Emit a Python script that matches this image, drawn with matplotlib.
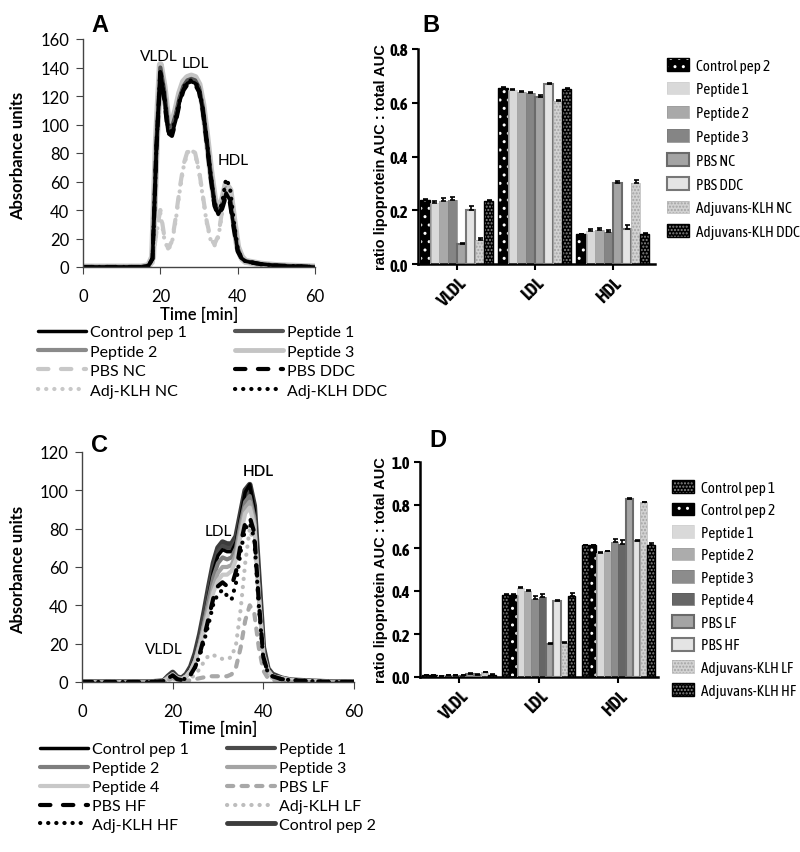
import matplotlib.pyplot as plt
from matplotlib.patches import Patch
from matplotlib.lines import Line2D

# ---------------- data ----------------
# Panel A: FPLC chromatograms (time in min, absorbance units)
timeA = [0, 5, 10, 15, 17, 18, 19, 20, 21, 22, 23, 24, 25, 26, 27, 28, 29, 30,
         31, 32, 33, 34, 35, 36, 37, 38, 39, 40, 41, 42, 44, 46, 48, 50, 55, 60]
ctrl1A = [0, 0, 0, 0, 1, 6, 85, 137, 120, 95, 93, 103, 116, 125, 129, 130, 129, 124,
          110, 88, 64, 44, 37, 42, 52, 47, 28, 12, 6, 4, 3, 2, 1.5, 1, 0.5, 0]
pep1A = [0, 0, 0, 0, 1, 6, 88, 140, 124, 100, 98, 107, 119, 127, 131, 132, 131, 126,
         112, 90, 66, 46, 38, 44, 55, 50, 30, 13, 6, 4, 3, 2, 1.5, 1, 0.5, 0]
pep2A = [0, 0, 0, 0, 1, 5, 82, 135, 118, 96, 96, 106, 118, 126, 130, 131, 130, 125,
         111, 89, 65, 45, 37, 43, 53, 48, 29, 12, 6, 4, 3, 2, 1.5, 1, 0.5, 0]
pep3A = [0, 0, 0, 0, 1, 7, 90, 142, 126, 102, 100, 110, 122, 130, 133, 134, 133, 128,
         114, 92, 68, 48, 40, 46, 58, 54, 33, 14, 7, 4, 3, 2, 1.5, 1, 0.5, 0]
pbsNcA = [0, 0, 0, 0, 0.5, 3, 25, 40, 22, 13, 18, 35, 55, 72, 81, 84, 80, 68,
          50, 32, 20, 16, 22, 40, 58, 52, 30, 12, 5, 3, 2, 1.5, 1, 0.5, 0, 0]
pbsDdcA = [0, 0, 0, 0, 1, 6, 84, 136, 118, 94, 92, 102, 115, 124, 128, 129, 128, 123,
           109, 87, 63, 43, 36, 41, 50, 45, 27, 11, 6, 4, 3, 2, 1.5, 1, 0.5, 0]
adjNcA = [0, 0, 0, 0, 0.5, 3, 24, 38, 20, 12, 17, 33, 53, 70, 80, 83, 79, 67,
          49, 31, 19, 15, 21, 38, 56, 50, 28, 11, 5, 3, 2, 1.5, 1, 0.5, 0, 0]
adjDdcA = [0, 0, 0, 0, 1, 6, 86, 138, 121, 97, 95, 105, 117, 126, 130, 131, 130, 125,
           111, 89, 65, 45, 38, 45, 62, 56, 32, 13, 6, 4, 3, 2, 1.5, 1, 0.5, 0]

# Panel C: chromatograms
timeC = [0, 5, 10, 15, 18, 19, 20, 21, 22, 23, 24, 25, 26, 27, 28, 29, 30, 31,
         32, 33, 34, 35, 36, 37, 38, 39, 40, 41, 42, 44, 46, 50, 55, 60]
ctrl2C = [0, 0, 0, 0, 0.5, 3, 5, 2.5, 2, 4, 8, 15, 25, 37, 50, 62, 70, 73,
          72, 72, 76, 88, 100, 103, 92, 55, 18, 7, 4, 2, 1, 0.5, 0, 0]
ctrl1C = [0, 0, 0, 0, 0.5, 2.5, 4.5, 2, 1.5, 3, 7, 13, 22, 33, 46, 58, 66, 69,
          68, 68, 73, 86, 99, 103, 90, 52, 16, 6, 3, 2, 1, 0.5, 0, 0]
pep1C = [0, 0, 0, 0, 0.5, 2.5, 4.5, 2, 1.5, 3, 7, 13, 23, 35, 48, 60, 68, 71,
         70, 70, 74, 86, 97, 100, 88, 50, 16, 6, 3, 2, 1, 0.5, 0, 0]
pep2C = [0, 0, 0, 0, 0.5, 2.5, 4, 2, 1.5, 3, 6, 12, 21, 32, 44, 55, 62, 65,
         64, 65, 70, 83, 94, 97, 86, 48, 15, 6, 3, 2, 1, 0.5, 0, 0]
pep3C = [0, 0, 0, 0, 0.5, 2.5, 4, 2, 1.5, 3, 6, 11, 20, 30, 40, 50, 57, 60,
         60, 61, 67, 80, 91, 94, 84, 46, 15, 6, 3, 2, 1, 0.5, 0, 0]
pep4C = [0, 0, 0, 0, 0.5, 2, 4, 2, 1.5, 3, 6, 11, 19, 28, 37, 47, 53, 56,
         56, 58, 64, 77, 88, 91, 82, 45, 14, 6, 3, 2, 1, 0.5, 0, 0]
pbsLfC = [0, 0, 0, 0, 0.3, 1, 2, 1, 0.5, 0.5, 1, 1.5, 2, 2.5, 3, 3, 3, 3,
          3, 4, 8, 18, 32, 40, 36, 18, 6, 2, 1, 0.5, 0, 0, 0, 0]
pbsHfC = [0, 0, 0, 0, 0.5, 2, 3.5, 1.5, 1, 2, 4, 8, 15, 24, 34, 44, 50, 52,
          50, 50, 58, 72, 83, 86, 78, 42, 13, 5, 3, 1.5, 1, 0.5, 0, 0]
adjLfC = [0, 0, 0, 0, 0.3, 1.5, 2.5, 1, 0.5, 1, 2, 4, 7, 11, 14, 14, 13, 12,
          12, 13, 20, 38, 62, 80, 72, 38, 12, 4, 2, 1, 0.5, 0, 0, 0]
adjHfC = [0, 0, 0, 0, 0.5, 2, 3.5, 1.5, 1, 2, 4, 8, 14, 22, 31, 41, 46, 48,
          45, 43, 52, 68, 80, 83, 75, 40, 12, 5, 3, 1.5, 1, 0.5, 0, 0]

# Panel B: ratio lipoprotein AUC : total AUC
classes = ['VLDL', 'LDL', 'HDL']
groupsB = ['Control pep 2', 'Peptide 1', 'Peptide 2', 'Peptide 3',
           'PBS NC', 'PBS DDC', 'Adjuvans-KLH NC', 'Adjuvans-KLH DDC']
vldlB = [0.237, 0.228, 0.235, 0.240, 0.075, 0.200, 0.090, 0.235]
ldlB = [0.655, 0.648, 0.640, 0.638, 0.622, 0.668, 0.607, 0.653]
hdlB = [0.110, 0.124, 0.127, 0.120, 0.300, 0.130, 0.300, 0.113]
vldlErrB = [0.004, 0.008, 0.010, 0.010, 0.004, 0.014, 0.005, 0.004]
ldlErrB = [0.004, 0.003, 0.003, 0.003, 0.005, 0.004, 0.004, 0.003]
hdlErrB = [0.002, 0.006, 0.007, 0.007, 0.008, 0.015, 0.012, 0.004]

# Panel D
groupsD = ['Control pep 1', 'Control pep 2', 'Peptide 1', 'Peptide 2', 'Peptide 3',
           'Peptide 4', 'PBS LF', 'PBS HF', 'Adjuvans-KLH LF', 'Adjuvans-KLH HF']
vldlD = [0.008, 0.008, 0.005, 0.007, 0.008, 0.008, 0.015, 0.010, 0.022, 0.010]
ldlD = [0.382, 0.382, 0.415, 0.400, 0.365, 0.373, 0.155, 0.352, 0.160, 0.378]
hdlD = [0.612, 0.612, 0.578, 0.585, 0.628, 0.620, 0.828, 0.632, 0.812, 0.614]
vldlErrD = [0.001, 0.001, 0.001, 0.001, 0.002, 0.001, 0.002, 0.002, 0.003, 0.002]
ldlErrD = [0.003, 0.003, 0.003, 0.004, 0.012, 0.012, 0.004, 0.004, 0.003, 0.012]
hdlErrD = [0.003, 0.003, 0.003, 0.003, 0.012, 0.015, 0.003, 0.004, 0.003, 0.010]

# ---------------- styles ----------------
curveFont = ['Lato', 'DejaVu Sans']
barFont = ['Asap Condensed', 'DejaVu Sans']
plt.rcParams['font.family'] = curveFont
plt.rcParams['hatch.linewidth'] = 1.0

dotted = (0, (0.05, 1.9))
longDash = (0, (2.5, 3.0))
shortDash = (0, (1.5, 2.0))
styleA = {
    'Control pep 1': dict(color='black', ls='-', lw=2.5),
    'Peptide 1': dict(color='#555555', ls='-', lw=3),
    'Peptide 2': dict(color='#8a8a8a', ls='-', lw=3),
    'Peptide 3': dict(color='#c4c4c4', ls='-', lw=5),
    'PBS NC': dict(color='#c8c8c8', ls=longDash, lw=3),
    'PBS DDC': dict(color='black', ls=longDash, lw=3),
    'Adj-KLH NC': dict(color='#c8c8c8', ls=dotted, lw=3),
    'Adj-KLH DDC': dict(color='black', ls=dotted, lw=3),
}
styleC = {
    'Control pep 1': dict(color='black', ls='-', lw=2.5),
    'Peptide 1': dict(color='#4a4a4a', ls='-', lw=3),
    'Peptide 2': dict(color='#7e7e7e', ls='-', lw=3),
    'Peptide 3': dict(color='#a4a4a4', ls='-', lw=3),
    'Peptide 4': dict(color='#c8c8c8', ls='-', lw=3),
    'PBS LF': dict(color='#a8a8a8', ls=shortDash, lw=3),
    'PBS HF': dict(color='black', ls=longDash, lw=3),
    'Adj-KLH LF': dict(color='#bdbdbd', ls=dotted, lw=3),
    'Adj-KLH HF': dict(color='black', ls=dotted, lw=3),
    'Control pep 2': dict(color='#3c3c3c', ls='-', lw=4),
}

black_white = dict(face='black', hatch='..', hcol='white', edge='black', lw=1)
black_grey = dict(face='black', hatch='.....', hcol='#8a8a8a', edge='black', lw=1)
speckle = dict(face='#d2d2d2', hatch='.....', hcol='#a4a4a4', edge='#b4b4b4', lw=0.5)
barStyleB = [
    black_white,
    dict(face='#d9d9d9', hatch=None, hcol='none', edge='#cfcfcf', lw=0.5),
    dict(face='#a9a9a9', hatch=None, hcol='none', edge='#9c9c9c', lw=0.5),
    dict(face='#858585', hatch=None, hcol='none', edge='#7a7a7a', lw=0.5),
    dict(face='#a4a4a4', hatch=None, hcol='none', edge='#6a6a6a', lw=1.5),
    dict(face='#e4e4e4', hatch=None, hcol='none', edge='#777777', lw=1.5),
    speckle,
    black_grey,
]
barStyleD = [
    black_grey,
    black_white,
    dict(face='#d9d9d9', hatch=None, hcol='none', edge='#cfcfcf', lw=0.5),
    dict(face='#acacac', hatch=None, hcol='none', edge='#a0a0a0', lw=0.5),
    dict(face='#8c8c8c', hatch=None, hcol='none', edge='#808080', lw=0.5),
    dict(face='#666666', hatch=None, hcol='none', edge='#5c5c5c', lw=0.5),
    dict(face='#a4a4a4', hatch=None, hcol='none', edge='#6a6a6a', lw=1.5),
    dict(face='#e4e4e4', hatch=None, hcol='none', edge='#777777', lw=1.5),
    speckle,
    black_grey,
]

W, H = 800, 853
fig = plt.figure(figsize=(W / 100, H / 100), dpi=100)


def box(x0, y0, x1, y1):
    # pixel box (top-left origin) -> figure fraction rect
    return [x0 / W, 1 - y1 / H, (x1 - x0) / W, (y1 - y0) / H]


def chromAxes(ax, ymax, ystep):
    ax.set_xlim(0, 60)
    ax.set_ylim(0, ymax)
    ax.set_xticks([0, 20, 40, 60])
    ax.set_yticks(range(0, ymax + 1, ystep))
    for s in ['top', 'right']:
        ax.spines[s].set_visible(False)
    for s in ['left', 'bottom']:
        ax.spines[s].set_color('#444444')
        ax.spines[s].set_linewidth(1)
    ax.tick_params(axis='x', length=5, pad=10, labelsize=12, color='#444444')
    ax.tick_params(axis='y', length=5, pad=5, labelsize=12, color='#444444')
    ax.set_xlabel('Time [min]', fontsize=12, fontweight='semibold')
    ax.set_ylabel('Absorbance units', fontsize=12, fontweight='bold')


def chromLegend(names, styles, x0, x1, ytop, spacing):
    half = (len(names) + 1) // 2
    for col, xs in zip([names[:half], names[half:]], [x0, x1]):
        hs = [Line2D([], [], color=styles[n]['color'], ls=styles[n]['ls'],
                     lw=min(styles[n]['lw'], 3.5), solid_capstyle='round',
                     dash_capstyle='round') for n in col]
        fig.legend(hs, col, loc='upper left', bbox_to_anchor=(xs / W, 1 - ytop / H),
                   frameon=False, fontsize=11.5, handlelength=3.0, handletextpad=0.25,
                   labelspacing=spacing, borderpad=0, borderaxespad=0)


def drawBars(ax, groups, vals, errs, styles, width):
    n = len(groups)
    hs = []
    for i, g in enumerate(groups):
        st = styles[i]
        xs = [k + (i - (n - 1) / 2) * width for k in range(len(classes))]
        hv = [v[i] for v in vals]
        ev = [e[i] for e in errs]
        ax.bar(xs, hv, width, color=st['face'], edgecolor=st['hcol'],
               hatch=st['hatch'], linewidth=0, zorder=2)
        ax.bar(xs, hv, width, color='none', edgecolor=st['edge'],
               linewidth=st['lw'], zorder=3)
        ax.errorbar(xs, hv, yerr=[[0] * len(ev), ev], fmt='none', ecolor='black',
                    elinewidth=1.2, capsize=1.8, capthick=1.2, zorder=4)
        hs.append((Patch(facecolor=st['face'], edgecolor=st['hcol'], hatch=st['hatch'], lw=0),
                   Patch(facecolor='none', edgecolor=st['edge'], lw=st['lw'])))
    return hs


def barAxes(ax, ymax, xmin, xmax):
    nt = int(round(ymax / 0.2)) + 1
    ax.set_xlim(xmin, xmax)
    ax.set_ylim(0, ymax)
    ax.set_yticks([round(0.2 * k, 1) for k in range(nt)])
    ax.set_yticklabels(['%.1f' % (0.2 * k) for k in range(nt)],
                       fontweight='bold', fontsize=12, family=barFont)
    ax.set_xticks(range(len(classes)))
    ax.set_xticklabels(classes, rotation=45, ha='right', va='top', rotation_mode='anchor',
                       fontweight='bold', fontsize=13, family=barFont)
    for s in ['top', 'right']:
        ax.spines[s].set_visible(False)
    for s in ['left', 'bottom']:
        ax.spines[s].set_linewidth(1.8)
    ax.tick_params(length=4, width=1.5, pad=3)
    ax.set_ylabel('ratio lipoprotein AUC : total AUC', fontsize=10.5, fontweight='bold',
                  family=['Liberation Sans', 'DejaVu Sans'])


def barLegend(handles, labels, x, ytop, spacing):
    fig.legend(handles, labels, loc='upper left', bbox_to_anchor=(x / W, 1 - ytop / H),
               frameon=False, prop=dict(family=barFont, size=11), handlelength=1.45,
               handleheight=0.9, handletextpad=0.45, labelspacing=spacing, borderpad=0,
               borderaxespad=0)


# ---------------- panel A ----------------
axA = fig.add_axes(box(83, 40, 315, 268))
seriesA = [('Peptide 3', pep3A), ('Peptide 2', pep2A), ('Peptide 1', pep1A),
           ('PBS NC', pbsNcA), ('Adj-KLH NC', adjNcA), ('Control pep 1', ctrl1A),
           ('PBS DDC', pbsDdcA), ('Adj-KLH DDC', adjDdcA)]
for name, ys in seriesA:
    st = styleA[name]
    axA.plot(timeA, ys, color=st['color'], ls=st['ls'], lw=st['lw'],
             solid_capstyle='round', dash_capstyle='round', solid_joinstyle='round')
chromAxes(axA, 160, 20)
axA.yaxis.set_label_coords(-0.245, 0.49)
axA.xaxis.set_label_coords(0.5, -0.17)
axA.text(19.5, 148, 'VLDL', ha='center', va='center', fontsize=11)
axA.text(29, 143, 'LDL', ha='center', va='center', fontsize=11)
axA.text(38.9, 75, 'HDL', ha='center', va='center', fontsize=11)
fig.text(100 / W, 1 - 25 / H, 'A', fontsize=17, fontweight='bold', ha='center', va='center',
         family=['Liberation Sans', 'DejaVu Sans'])
chromLegend(['Control pep 1', 'Peptide 2', 'PBS NC', 'Adj-KLH NC',
             'Peptide 1', 'Peptide 3', 'PBS DDC', 'Adj-KLH DDC'],
            styleA, 38, 235, 326, 0.33)

# ---------------- panel C ----------------
axC = fig.add_axes(box(82, 453, 354, 683))
seriesC = [('Control pep 2', ctrl2C), ('Peptide 1', pep1C), ('Control pep 1', ctrl1C),
           ('Peptide 2', pep2C), ('Peptide 3', pep3C), ('Peptide 4', pep4C),
           ('Adj-KLH LF', adjLfC), ('PBS LF', pbsLfC), ('PBS HF', pbsHfC),
           ('Adj-KLH HF', adjHfC)]
for name, ys in seriesC:
    st = styleC[name]
    axC.plot(timeC, ys, color=st['color'], ls=st['ls'], lw=st['lw'],
             solid_capstyle='round', dash_capstyle='round', solid_joinstyle='round')
chromAxes(axC, 120, 20)
axC.yaxis.set_label_coords(-0.206, 0.49)
axC.xaxis.set_label_coords(0.5, -0.165)
axC.text(18, 17, 'VLDL', ha='center', va='center', fontsize=11)
axC.text(30.1, 79, 'LDL', ha='center', va='center', fontsize=11)
axC.text(38.9, 110, 'HDL', ha='center', va='center', fontsize=11, fontweight='semibold')
fig.text(100 / W, 1 - 446 / H, 'C', fontsize=17, fontweight='bold', ha='center', va='center',
         family=['Liberation Sans', 'DejaVu Sans'])
chromLegend(['Control pep 1', 'Peptide 2', 'Peptide 4', 'PBS HF', 'Adj-KLH HF',
             'Peptide 1', 'Peptide 3', 'PBS LF', 'Adj-KLH LF', 'Control pep 2'],
            styleC, 40, 227, 743, 0.3)

# ---------------- panel B ----------------
axB = fig.add_axes(box(418, 50, 655, 265))
hB = drawBars(axB, groupsB, [vldlB, ldlB, hdlB], [vldlErrB, ldlErrB, hdlErrB],
              barStyleB, 0.117)
barAxes(axB, 0.8, -0.5, 2.54)
axB.yaxis.set_label_coords(-0.127, 0.5)
fig.text(431 / W, 1 - 25 / H, 'B', fontsize=17, fontweight='bold', ha='center', va='center',
         family=['Liberation Sans', 'DejaVu Sans'])
barLegend(hB, groupsB, 667, 59, 0.6)

# ---------------- panel D ----------------
axD = fig.add_axes(box(420, 463, 658, 678))
hD = drawBars(axD, groupsD, [vldlD, ldlD, hdlD], [vldlErrD, ldlErrD, hdlErrD],
              barStyleD, 0.092)
barAxes(axD, 1.0, -0.49, 2.5)
axD.yaxis.set_label_coords(-0.134, 0.5)
fig.text(438 / W, 1 - 441 / H, 'D', fontsize=17, fontweight='bold', ha='center', va='center',
         family=['Liberation Sans', 'DejaVu Sans'])
barLegend(hD, groupsD, 672, 481, 0.52)

plt.savefig('out.png', dpi=100)
